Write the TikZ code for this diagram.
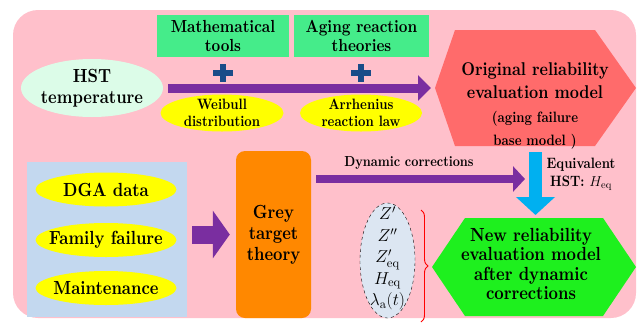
\documentclass[tikz,border=0pt]{standalone}
\usepackage{fontspec}
\setmainfont{lmroman10-regular.otf}[BoldFont=lmroman10-bold.otf, ItalicFont=lmroman10-italic.otf, BoldFeatures={FakeStretch=0.86}]
\usetikzlibrary{arrows.meta,shapes.geometric,decorations.pathreplacing,calc}
\definecolor{pinkbg}{HTML}{FFC0CB}
\definecolor{boxgreen}{HTML}{45EC8A}
\definecolor{mint}{HTML}{DCFCE8}
\definecolor{yel}{HTML}{FFFF00}
\definecolor{purp}{HTML}{7A2EA0}
\definecolor{redhex}{HTML}{FF6B6B}
\definecolor{inblue}{HTML}{C3D8EF}
\definecolor{orng}{HTML}{FF8800}
\definecolor{cyanarr}{HTML}{00B0F0}
\definecolor{greenhex}{HTML}{1EF01E}
\definecolor{plusblue}{HTML}{1A4C88}
\definecolor{ellgrey}{HTML}{DCE6F2}
\newcommand{\smallbf}{\fontsize{15}{18}\selectfont}
\begin{document}
\begin{tikzpicture}[x=1pt,y=-1pt,
  fs/.style n args={2}{font=\bfseries\fontsize{#1}{#2}\selectfont},
  greenbox/.style={fill=boxgreen, minimum width=#1, minimum height=42pt, inner sep=0pt, align=center, fs={17.5}{19}},
  yell/.style={ellipse, fill=yel, inner xsep=-20pt, inner ysep=-12pt, minimum width=#1, minimum height=36pt, align=center},
  bigarrow/.style={draw=purp, line width=9pt, -{Triangle[length=13pt,width=25pt]}},
]
\useasboundingbox (0,0) rectangle (638,322);
\fill[pinkbg, rounded corners=25pt] (13,10) rectangle (636,318);

% top row
\node[greenbox=132pt] (math) at (223,36) {Mathematical\\tools};
\node[greenbox=135pt] (aging) at (361.5,36) {Aging reaction\\theories};
\fill[plusblue] (213,69.5) rectangle (233,75.5);
\fill[plusblue] (220,63.5) rectangle (226,81.5);
\fill[plusblue] (351,69.5) rectangle (371,75.5);
\fill[plusblue] (358,63.5) rectangle (364,81.5);

\node[ellipse, fill=mint, inner xsep=-20pt, inner ysep=-12pt, minimum width=142pt, minimum height=58pt, align=center, fs={19}{21}] (hst) at (92,88) {HST\\temperature};
\node[yell=123pt, minimum height=37pt, fs={15}{17}] (weib) at (222,113) {Weibull\\distribution};
\node[yell=122pt, minimum height=37pt, fs={15}{17}] (arrh) at (361,113) {Arrhenius\\reaction law};

\fill[redhex] (435,88) -- (455,30) -- (595,30) -- (636,88) -- (595,146) -- (455,146) -- cycle;
\coordinate (origL) at (435,88);
\coordinate (origB) at (535.5,146);
\node[align=center, inner sep=0pt, fs={18.5}{23}] (orig) at (535,106)
  {Original reliability\\evaluation model\\[1pt]\smallbf (aging failure\\\smallbf base model )};

\draw[bigarrow, shorten <=5pt, shorten >=4pt] (hst.east |- origL) -- (origL);

% bottom row
\node[fill=inblue, minimum width=160pt, minimum height=155pt, inner sep=0pt] (inputs) at (107,239.5) {};
\node[yell=141pt, minimum height=34pt, fs={19}{21}] (dga) at (106,189.5) {DGA data};
\node[yell=141pt, minimum height=34pt, fs={19}{21}] (fam) at (106,240) {Family failure};
\node[yell=141pt, minimum height=34pt, fs={19}{21}] (maint) at (106,288) {Maintenance};

\node[fill=orng, rounded corners=9pt, minimum width=75pt, minimum height=167pt, inner sep=0pt, align=center, fs={19}{21}] (grey) at (273.5,234.5) {Grey\\target\\theory};

\draw[draw=purp, line width=18pt, -{Triangle[length=17pt,width=47pt]}, shorten <=5pt, shorten >=6pt] (inputs.east |- grey.center) -- (grey.west);

\coordinate (dynE) at (525,179);
\draw[draw=purp, line width=8pt, -{Triangle[length=12pt,width=25pt]}, shorten <=5pt] (grey.east |- dynE) -- (dynE);
\node[fs={14.5}{17}] (dynlbl) at (409,163) {Dynamic corrections};

\fill[greenhex] (432,267) -- (465,218) -- (603,218) -- (636,267) -- (603,316) -- (465,316) -- cycle;
\coordinate (newT) at (535.5,218);
\node[align=center, inner sep=0pt, fs={19}{19.5}] (new) at (531,264) {New reliability\\evaluation model\\after dynamic\\corrections};

\draw[draw=cyanarr, line width=13pt, -{Triangle[length=18pt,width=38pt]}, shorten <=6pt, shorten >=3pt] (origB) -- (newT);
\node[align=center, inner sep=0pt, fs={15}{18}] (eqv) at (581,174) {Equivalent\\HST: $H_{\mathrm{eq}}$};

\node[ellipse, draw=black, dashed, fill=ellgrey, inner sep=0pt, minimum width=55pt, minimum height=115pt] (vars) at (387.5,260.5) {};
\node[align=center, inner sep=0pt, font=\fontsize{18}{21.5}\selectfont] (varstxt) at (387.5,258.5)
  {$Z'$\\$Z''$\\$Z'_{\mathrm{eq}}$\\$H_{\mathrm{eq}}$\\$\lambda_{\mathrm{a}}(t)$};
\draw[red, line width=0.9pt, decorate, decoration={brace, amplitude=7pt}] (421,210) -- (421,322);
\end{tikzpicture}
\end{document}
